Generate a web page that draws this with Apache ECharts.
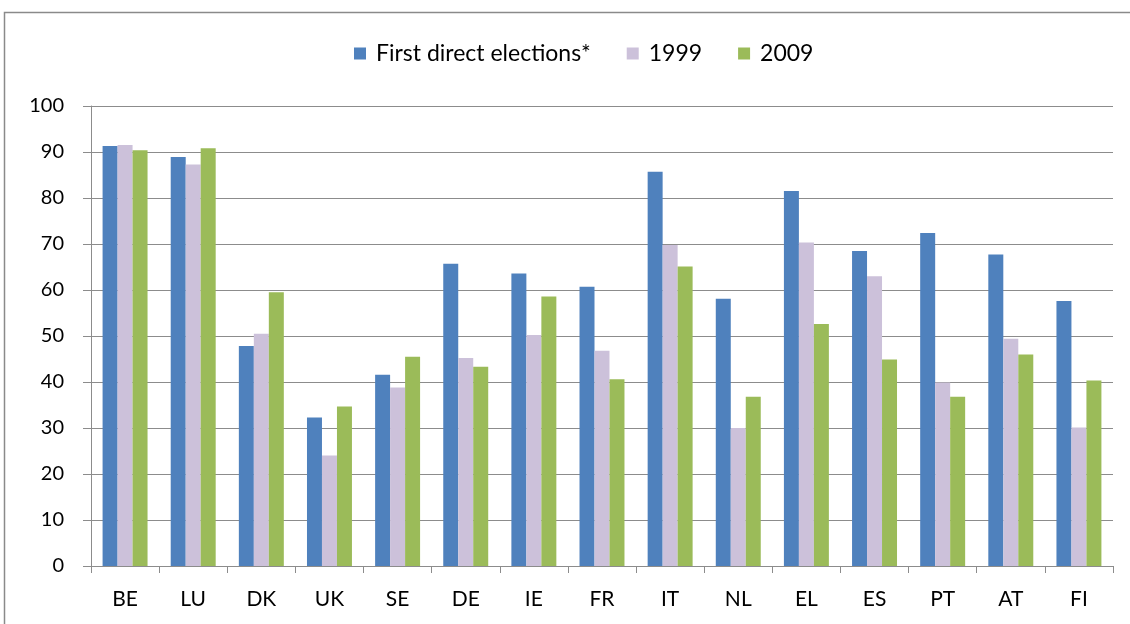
<!DOCTYPE html>
<html>
<head>
<meta charset="utf-8">
<script src="https://cdn.jsdelivr.net/npm/echarts@6/dist/echarts.min.js"></script>
<style>
  html, body { margin: 0; padding: 0; background: #fff; }
  #chart { width: 1130px; height: 624px; }
</style>
</head>
<body>
<div id="chart"></div>
<script>
// countries
const countries = ['BE', 'LU', 'DK', 'UK', 'SE', 'DE', 'IE', 'FR', 'IT', 'NL', 'EL', 'ES', 'PT', 'AT', 'FI'];
// turnout (%)
const firstElections = [91.3, 88.9, 47.8, 32.3, 41.6, 65.7, 63.6, 60.7, 85.7, 58.1, 81.5, 68.5, 72.4, 67.7, 57.6];
const y1999 = [91.5, 87.3, 50.5, 24.0, 38.8, 45.2, 50.2, 46.8, 69.8, 30.0, 70.3, 63.0, 39.9, 49.4, 30.1];
const y2009 = [90.4, 90.8, 59.5, 34.7, 45.5, 43.3, 58.6, 40.6, 65.1, 36.8, 52.6, 44.9, 36.8, 46.0, 40.3];
const yTicks = { min: 0, max: 100, interval: 10 };

const chart = echarts.init(document.getElementById('chart'));
const fontFam = 'Lato, "Open Sans", sans-serif';
const gridColor = '#8c8c8c';

const option = {
  animation: false,
  textStyle: { fontFamily: fontFam },
  graphic: [{
    type: 'rect',
    shape: { x: 4.5, y: 12.5, width: 1200, height: 700 },
    style: { fill: 'none', stroke: '#8a8a8a', lineWidth: 1.5 }
  }],
  legend: {
    top: 37,
    left: 349,
    itemWidth: 12,
    itemHeight: 12,
    itemGap: 36,
    icon: 'rect',
    textStyle: { fontSize: 23, color: '#000', fontFamily: fontFam, padding: [0, 0, 0, 5] },
    data: ['First direct elections*', '1999', '2009']
  },
  grid: { left: 91, right: 17, top: 106, bottom: 58 },
  xAxis: {
    type: 'category',
    data: countries,
    axisLine: { lineStyle: { color: gridColor, width: 1 } },
    axisTick: { show: true, length: 7, lineStyle: { color: gridColor } },
    axisLabel: { fontSize: 21, color: '#000', margin: 23 },
    splitLine: { show: false }
  },
  yAxis: {
    type: 'value',
    min: yTicks.min,
    max: yTicks.max,
    interval: yTicks.interval,
    axisLine: { show: true, lineStyle: { color: gridColor } },
    axisTick: { show: true, length: 8, inside: false, lineStyle: { color: gridColor } },
    axisLabel: { fontSize: 20, color: '#000', margin: 27 },
    splitLine: { show: true, lineStyle: { color: gridColor, width: 1 } }
  },
  series: [
    {
      name: 'First direct elections*',
      type: 'bar',
      data: firstElections,
      barGap: '0%',
      barCategoryGap: '34%',
      itemStyle: { color: '#4f81bd' }
    },
    {
      name: '1999',
      type: 'bar',
      data: y1999,
      itemStyle: { color: '#ccc1da' }
    },
    {
      name: '2009',
      type: 'bar',
      data: y2009,
      itemStyle: { color: '#9bbb59' }
    }
  ]
};

chart.setOption(option);
</script>
</body>
</html>
